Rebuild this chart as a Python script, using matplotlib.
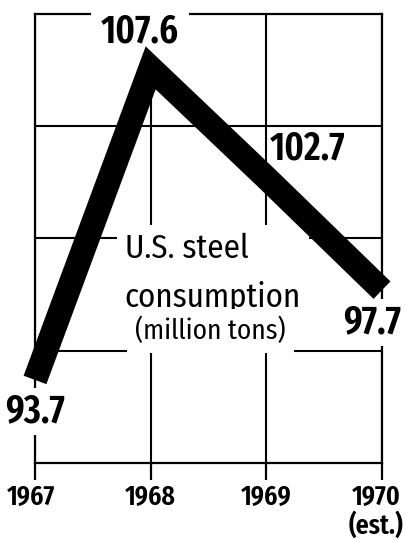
import os
import matplotlib
matplotlib.use("Agg")
import matplotlib.pyplot as plt
from matplotlib import font_manager as fm
from matplotlib.ft2font import FT2Font
from matplotlib.transforms import ScaledTranslation

# ---- data ----
years = [1967, 1968, 1969, 1970]
consumption = [93.7, 107.6, 102.7, 97.7]
value_labels = ["93.7", "107.6", "102.7", "97.7"]
tick_labels = ["1967", "1968", "1969", "1970\n(est.)"]
grid_values = [95, 100, 105]
title_main = "U.S. steel\nconsumption"
title_unit = "(million tons)"

DPI = 100

# ---- pick the installed sans font whose proportions best match the
#      condensed newspaper gothic of the reference ----
BAD = ("mono", "serif", "cjk", "math", "emoji", "symbol", "italic",
       "oblique", "code", "color", "slab")
GOOD = ("sans", "roboto", "lato", "inter", "open")


def _wnum(w):
    if isinstance(w, (int, float)):
        return w
    return fm.weight_dict.get(w, 400)


def _ink(fname, text):
    f = FT2Font(fname)
    f.set_size(100, 72)
    f.set_text(text)
    w, h = f.get_width_height()
    return w / 64.0, h / 64.0


def _asc(fname):
    f = FT2Font(fname)
    f.set_size(100, 72)
    f.set_text("lp")
    w, h = f.get_width_height()
    d = f.get_descent()
    return (h - d) / 64.0


def pick(samples, wmin, wmax, prefer=None):
    best = None
    for e in fm.fontManager.ttflist:
        b = os.path.basename(e.fname).lower()
        nm = e.name.lower()
        if any(k in b or k in nm for k in BAD):
            continue
        if not any(k in b or k in nm for k in GOOD):
            continue
        if not b.endswith((".ttf", ".otf")):
            continue
        w = _wnum(e.weight)
        if not (wmin <= w <= wmax):
            continue
        try:
            s = 0.0
            for txt, ratio in samples:
                tw, th = _ink(e.fname, txt)
                s += abs(tw / th - ratio)
        except Exception:
            continue
        if prefer is not None and e.name == prefer:
            s -= 0.3
        if best is None or s < best[0]:
            best = (s, e.fname, e.name)
    return best


_b = pick([("1967", 2.2), ("107.6", 2.5)], 600, 800)
bold_file = _b[1] if _b else None
_r = pick([("U.S. steel", 4.9), ("(million tons)", 5.6)], 350, 550,
          prefer=_b[2] if _b else None)
reg_file = _r[1] if _r else None


def fprops(fname, sample, target_px, fallback_weight):
    if fname is None:
        return fm.FontProperties(family="DejaVu Sans", weight=fallback_weight,
                                 size=target_px / 0.73 * 72 / DPI)
    _, th = _ink(fname, sample)
    size = target_px / (th / 100.0) * 72.0 / DPI
    return fm.FontProperties(fname=fname, size=size)


fp_num = fprops(bold_file, "107.6", 28, "bold")
fp_year = fprops(bold_file, "1967", 20, "bold")
fp_cap = fprops(reg_file, "U.S. steel", 25, "normal")
fp_unit = fprops(reg_file, "(million tons)", 27, "normal")


def linespacing(fp, gap_px):
    fname = fp.get_file()
    px = fp.get_size_in_points() * DPI / 72.0
    asc = (_asc(fname) / 100.0 * px) if fname else 0.76 * px
    return gap_px / asc


# ---- figure ----
fig = plt.figure(figsize=(4.05, 5.39), dpi=DPI)
ax = fig.add_axes([35 / 405, 76 / 539, 347 / 405, 449 / 539])
ax.set_xlim(1967, 1970)
ax.set_ylim(90, 110)

ax.set_yticks(grid_values)
ax.tick_params(axis="y", length=0, labelleft=False)
ax.set_xticks(years, labels=tick_labels)
ax.tick_params(axis="x", length=12, width=1.6, color="black", pad=3,
               direction="out")
ls_year = linespacing(fp_year, 22)
xlabs = ax.get_xticklabels()
for lab in xlabs:
    lab.set_fontproperties(fp_year)
    lab.set_linespacing(ls_year)
# nudge first and last labels as in the original layout
xlabs[0].set_transform(xlabs[0].get_transform()
                       + ScaledTranslation(-3 / 72, 0, fig.dpi_scale_trans))
xlabs[-1].set_transform(xlabs[-1].get_transform()
                        + ScaledTranslation(-4 / 72, 0, fig.dpi_scale_trans))
ax.grid(True, color="black", lw=1.5)
for s in ax.spines.values():
    s.set_linewidth(1.6)
    s.set_color("black")

# thick data line
ax.plot(years, consumption, color="black", lw=17.5,
        solid_joinstyle="miter", solid_capstyle="butt",
        clip_on=False, zorder=5)

# value labels (offsets in points from each data point)
offsets = [(0, -30.7, 0.1), (-7.7, 18, 0.25), (30, 13, None), (-6.8, -31, 0.1)]
for x, y, t, (dx, dy, pad) in zip(years, consumption, value_labels, offsets):
    kw = {}
    if pad is not None:
        kw["bbox"] = dict(boxstyle=f"square,pad={pad}", fc="white", ec="none")
    ax.annotate(t, xy=(x, y), xytext=(dx, dy), textcoords="offset points",
                ha="center", va="baseline", fontproperties=fp_num,
                annotation_clip=False, zorder=4, **kw)

# central caption (baseline refers to the last line)
ax.text(0.259, 0.3497, title_main, transform=ax.transAxes, ha="left",
        va="baseline", fontproperties=fp_cap,
        linespacing=linespacing(fp_cap, 39), zorder=4,
        bbox=dict(boxstyle="square,pad=0.25", fc="white", ec="none"))
ax.text(0.288, 0.276, title_unit, transform=ax.transAxes, ha="left",
        va="baseline", fontproperties=fp_unit, zorder=4,
        bbox=dict(boxstyle="square,pad=0.3", fc="white", ec="none"))

fig.savefig("out.png", dpi=DPI, facecolor="white")
